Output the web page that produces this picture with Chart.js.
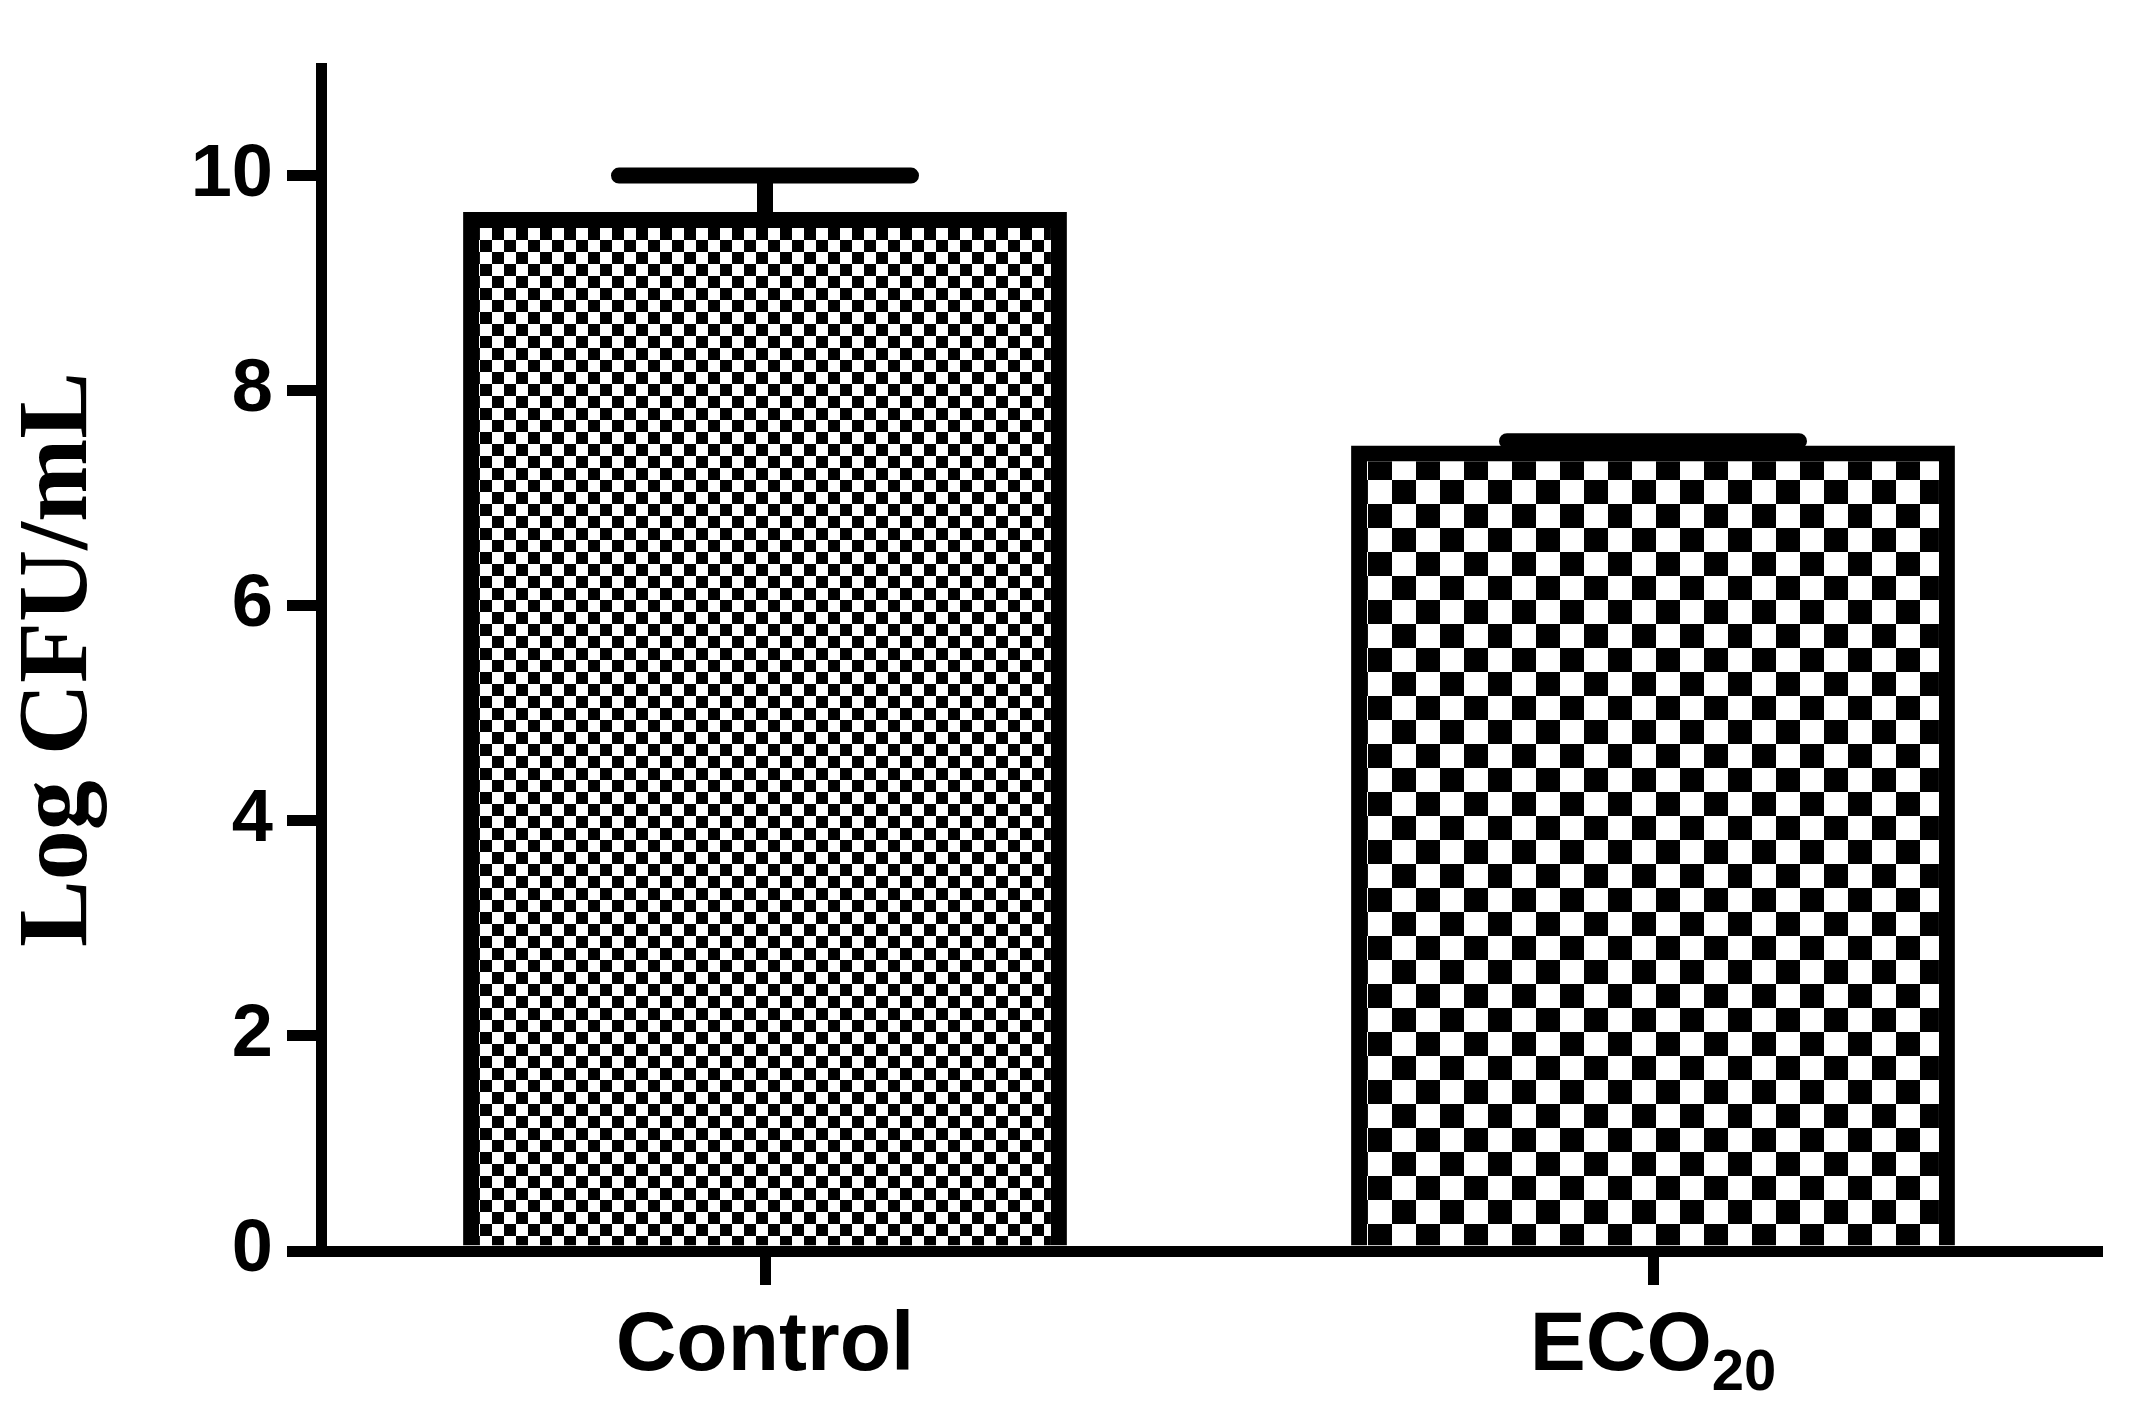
<!DOCTYPE html>
<html>
<head>
<script src="https://cdn.jsdelivr.net/npm/chart.js@4"></script>
<style>html,body{margin:0;background:#fff}#c{display:block}</style>
</head>
<body>
<div style="width:2142px;height:1412px"><canvas id="c"></canvas></div>
<script>
var categories = ["Control", "ECO"];
var subscripts = ["", "20"];
var means = [9.66, 7.49];
var errors = [0.34, 0.04];
var yTicks = [0, 2, 4, 6, 8, 10];

function checker(size) {
    var p = document.createElement('canvas');
    p.width = p.height = size * 2;
    var g = p.getContext('2d');
    g.fillStyle = '#fff'; g.fillRect(0, 0, size * 2, size * 2);
    g.fillStyle = '#000';
    g.fillRect(0, 0, size, size);
    g.fillRect(size, size, size, size);
    return g.createPattern(p, 'repeat');
}

var ctx = document.getElementById('c').getContext('2d');

var errorBars = {
    id: 'errorBars',
    afterDatasetsDraw: function(chart) {
        var c = chart.ctx, x = chart.scales.x, y = chart.scales.y;
        c.save();
        c.strokeStyle = '#000'; c.lineWidth = 16; c.lineCap = 'round';
        means.forEach(function(m, i) {
            var px = x.getPixelForValue(i);
            var top = y.getPixelForValue(m + errors[i]);
            c.beginPath();
            c.moveTo(px, y.getPixelForValue(m)); c.lineTo(px, top);
            c.moveTo(px - 146, top); c.lineTo(px + 146, top);
            c.stroke();
        });
        c.restore();
    },
    afterDraw: function(chart) {
        var c = chart.ctx, x = chart.scales.x;
        c.save();
        c.fillStyle = '#000'; c.textBaseline = 'alphabetic';
        categories.forEach(function(lab, i) {
            var px = x.getPixelForValue(i);
            c.font = 'bold 84px "Liberation Sans", Arial';
            var w1 = c.measureText(lab).width;
            c.font = 'bold 58px "Liberation Sans", Arial';
            var w2 = subscripts[i] ? c.measureText(subscripts[i]).width : 0;
            var sx = px - (w1 + w2) / 2;
            c.font = 'bold 84px "Liberation Sans", Arial';
            c.textAlign = 'left';
            c.fillText(lab, sx, 1370);
            if (subscripts[i]) {
                c.font = 'bold 58px "Liberation Sans", Arial';
                c.fillText(subscripts[i], sx + w1, 1390);
            }
        });
        c.restore();
    }
};

new Chart(ctx, {
    type: 'bar',
    data: {
        labels: categories,
        datasets: [{
            data: means,
            backgroundColor: [checker(12), checker(24)],
            borderColor: '#000',
            borderWidth: 16,
            categoryPercentage: 0.68,
            barPercentage: 1
        }]
    },
    options: {
        responsive: true,
        maintainAspectRatio: false,
        animation: false,
        devicePixelRatio: 1,
        layout: { padding: { top: 68, right: 45, left: 0, bottom: 0 } },
        plugins: { legend: { display: false }, tooltip: { enabled: false } },
        scales: {
            x: {
                grid: { display: true, drawOnChartArea: false, offset: false, tickLength: 34, lineWidth: 11, color: '#000' },
                border: { display: true, width: 11, color: '#000' },
                ticks: { color: 'rgba(0,0,0,0)', font: { size: 84 } },
                afterFit: function(s) { s.height = 161; }
            },
            y: {
                min: 0, max: 11,
                afterBuildTicks: function(s) { s.ticks = yTicks.map(function(v) { return { value: v }; }); },
                grid: { display: true, drawOnChartArea: false, tickLength: 34, lineWidth: 11, color: '#000' },
                border: { display: true, width: 11, color: '#000' },
                ticks: { color: '#000', padding: 14, font: { family: '"Liberation Sans", Arial', size: 74, weight: 'bold' } },
                title: { display: true, text: 'Log CFU/mL', color: '#000', padding: { top: 0, bottom: 40 },
                    font: { family: '"Liberation Serif", "Times New Roman"', size: 100, weight: 'bold' } },
                afterFit: function(s) { s.width = 321; }
            }
        }
    },
    plugins: [errorBars]
});
</script>
</body>
</html>
